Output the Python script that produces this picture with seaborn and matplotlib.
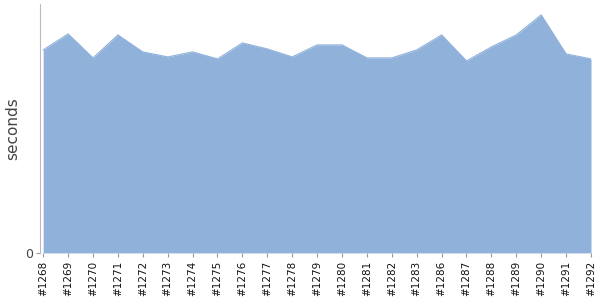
import numpy as np
import pandas as pd
import seaborn as sns
import matplotlib.pyplot as plt

# dati
builds = ['#1268', '#1269', '#1270', '#1271', '#1272', '#1273', '#1274', '#1275',
          '#1276', '#1277', '#1278', '#1279', '#1280', '#1281', '#1282', '#1283',
          '#1286', '#1287', '#1288', '#1289', '#1290', '#1291', '#1292']
seconds = [203, 219, 195, 218, 201, 196, 201, 194,
           210, 204, 196, 208, 208, 195, 195, 203,
           218, 192, 206, 218, 238, 199, 194]

df = pd.DataFrame({'build': builds, 'seconds': seconds})
df['pos'] = np.arange(len(df))

sns.set_style("white")
fig = plt.figure(figsize=(6, 3), dpi=100)
ax = fig.add_axes([0.067, 0.157, 0.918, 0.83])

color = '#8fb1da'
sns.lineplot(data=df, x='pos', y='seconds', color=color, linewidth=0.8, ax=ax)
ax.fill_between(df['pos'], df['seconds'], color=color, linewidth=0)

ax.set_xlim(-0.12, len(df) - 1)
ax.set_ylim(0, 249)
ax.set_xticks(df['pos'])
ax.set_xticklabels(df['build'], rotation=90, fontsize=7.5, color='#111111')
ax.set_yticks([0])
ax.set_yticklabels(['0'], fontsize=9, color='#444444')
ax.set_xlabel('')
ax.set_ylabel('seconds', fontsize=11, color='#444444')

for s in ['top', 'right', 'bottom']:
    ax.spines[s].set_visible(False)
ax.spines['left'].set_color('#bbbbbb')
ax.tick_params(axis='x', length=3, color='#999999', pad=3, bottom=True)
ax.tick_params(axis='y', length=3, color='#999999', pad=2, left=True)

fig.savefig('out.png', dpi=100)
